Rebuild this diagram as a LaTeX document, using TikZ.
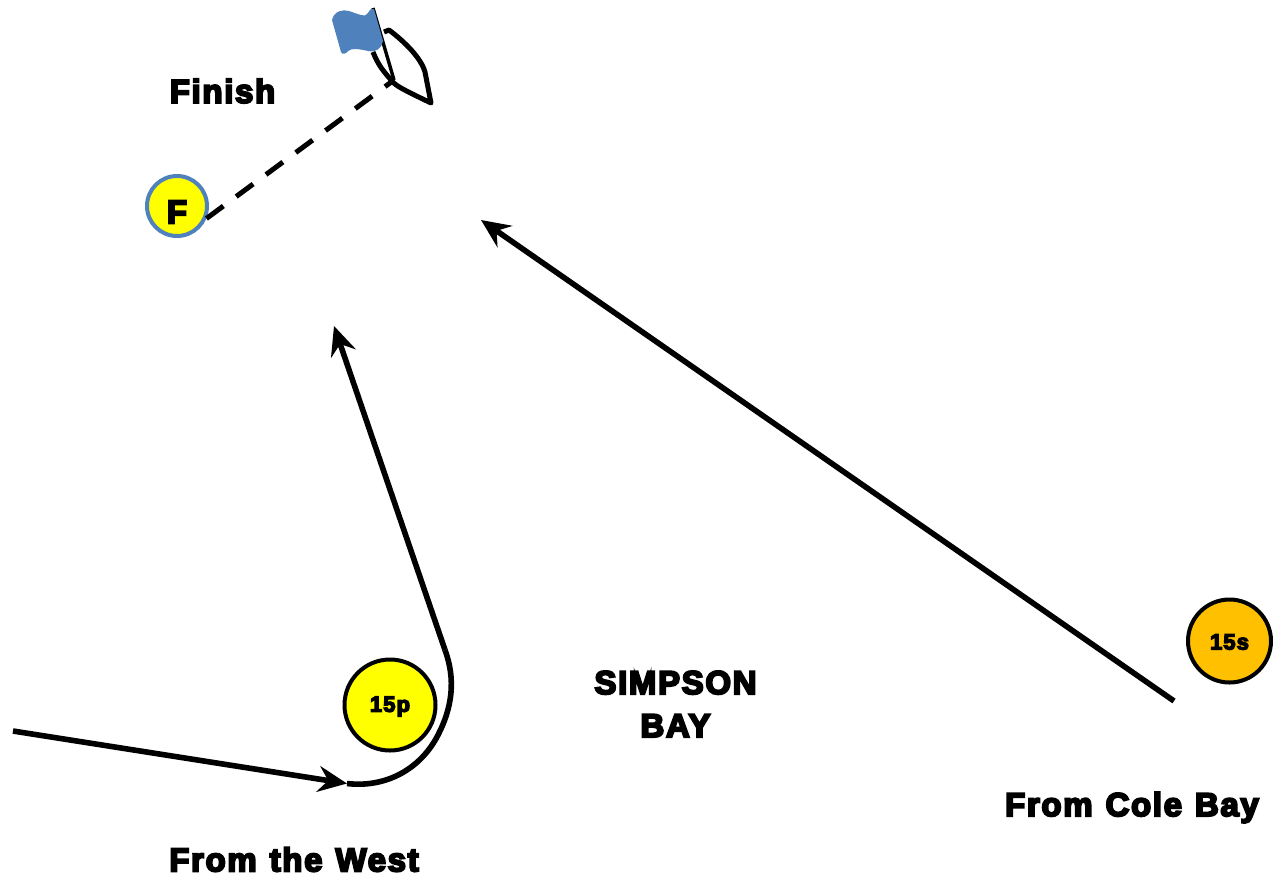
\documentclass[tikz,border=0pt]{standalone}
\usepackage{fontspec}
\usetikzlibrary{arrows.meta}
\newfontfamily\blk[FakeBold=6,LetterSpace=5,WordSpace=1.2]{Liberation Sans Bold}
\definecolor{flagblue}{HTML}{4F81BD}
\definecolor{amber}{HTML}{FFC000}
\definecolor{buoyyellow}{HTML}{FFFF00}
\tikzset{
  lab/.style={font=\blk\fontsize{33}{38}\selectfont,inner sep=0pt,align=center,text=black},
  buoy/.style={font=\blk\fontsize{22}{26}\selectfont,circle,draw=black,line width=4pt,inner sep=0pt,text=black},
  route/.style={line width=5.6pt,draw=black},
  routetip/.style={-{Stealth[length=29pt,width=26pt,inset=10pt]}},
}
\begin{document}
\begin{tikzpicture}[x=1pt,y=-1pt]
\useasboundingbox (0,0) rectangle (1273,876);
\node[lab] (finish) at (222.5,91) {Finish};
\node[lab] (west) at (294,859.5) {From the West};
\node[lab] (cole) at (1132,807.5) {From Cole Bay};
\node[lab] (bay) at (675.5,704) {SIMPSON\\[5pt]BAY};
\node[buoy,minimum size=60pt,fill=buoyyellow,draw=flagblue] (f) at (177,206) {};
\node[lab] (ftext) at (177,212) {F};
\node[buoy,minimum size=91pt,fill=buoyyellow] (p) at (390,705) {};
\node[buoy,draw=none,fill=none] (ptext) at (390,706.5) {15p};
\node[buoy,minimum size=83pt,fill=amber] (s) at (1229.5,641) {};
\node[buoy,draw=none,fill=none] (stext) at (1229.5,642) {15s};
\coordinate (pole) at (394,80);
\coordinate (poletop) at (373,8);
\coordinate (westin) at (13,731);
\coordinate (rounding) at (347,783.5);
\coordinate (leave) at (445,650);
\coordinate (west1) at (334,326);
\coordinate (colein) at (1174,701);
\coordinate (cole1) at (481,220);
% boat
\draw[line width=5pt,line join=round] (373,52) .. controls (378,65) and (384,72) .. (392,81) .. controls (396,86) and (402,89) .. (431,103) -- (425,72) .. controls (421,58) and (405,42) .. (389,30) -- (384,32);
\draw[line width=3.4pt] (poletop) -- (pole);
\fill[flagblue] (332,20) .. controls (334,11) and (343,9) .. (349,11) .. controls (358,14) and (366,18) .. (368,13) .. controls (370,9) and (372,8) .. (374,9) -- (383,41) .. controls (382,48) and (376,53) .. (368,51) .. controls (360,49) and (351,48) .. (348,51) .. controls (346,54) and (342,55) .. (341,52) -- cycle;
% routes
\draw[line width=5pt,dash pattern=on 21pt off 16pt] (f.-23) -- (pole);
\draw[route] (rounding) .. controls (385,788) and (420,770) .. (438,735) .. controls (452,708) and (456,680) .. (leave);
\draw[route,routetip] (westin) -- (rounding);
\draw[route,routetip] (leave) -- (west1);
\draw[route,routetip] (colein) -- (cole1);
\end{tikzpicture}
\end{document}
